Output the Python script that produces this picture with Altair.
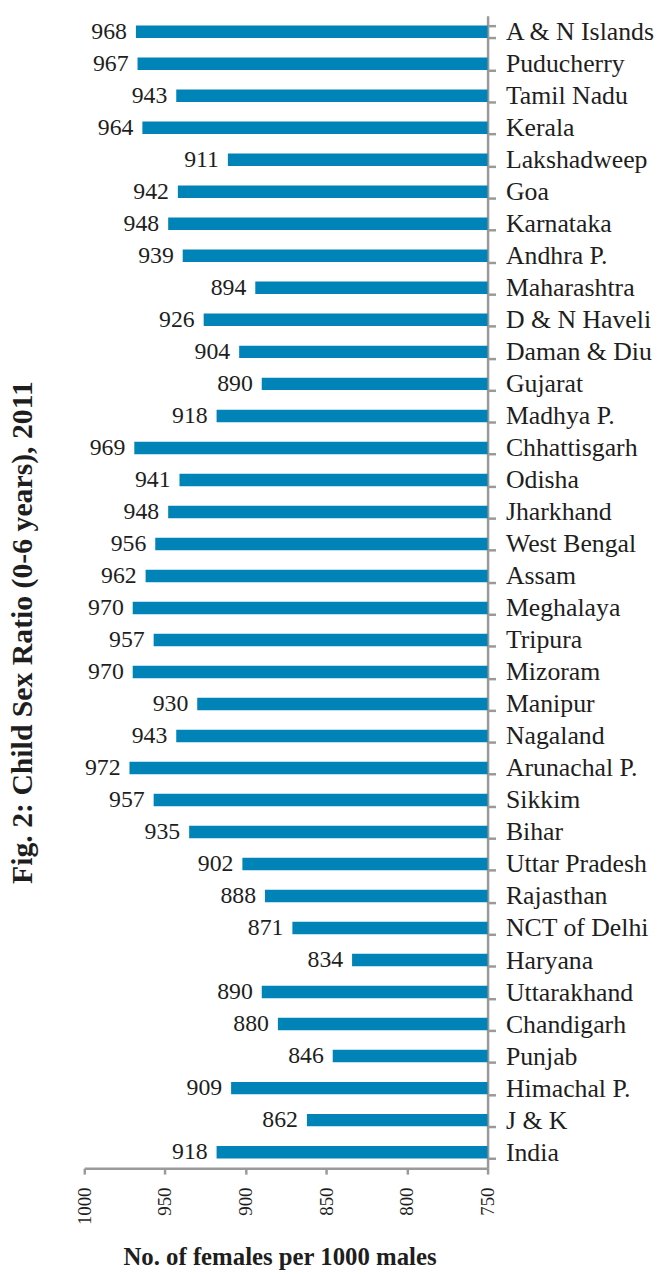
import altair as alt
import pandas as pd

states = ["A & N Islands", "Puducherry", "Tamil Nadu", "Kerala", "Lakshadweep", "Goa",
          "Karnataka", "Andhra P.", "Maharashtra", "D & N  Haveli", "Daman & Diu", "Gujarat",
          "Madhya P.", "Chhattisgarh", "Odisha", "Jharkhand", "West Bengal", "Assam",
          "Meghalaya", "Tripura", "Mizoram", "Manipur", "Nagaland", "Arunachal P.", "Sikkim",
          "Bihar", "Uttar Pradesh", "Rajasthan", "NCT of Delhi", "Haryana", "Uttarakhand",
          "Chandigarh", "Punjab", "Himachal P.", "J & K", "India"]
ratios = [968, 967, 943, 964, 911, 942, 948, 939, 894, 926, 904, 890, 918, 969, 941, 948,
          956, 962, 970, 957, 970, 930, 943, 972, 957, 935, 902, 888, 871, 834, 890, 880,
          846, 909, 862, 918]
x_ticks = [1000, 950, 900, 850, 800, 750]

df = pd.DataFrame({"state": states, "ratio": ratios, "base": [750] * len(states)})

FONT = "Liberation Serif"
GREY = "#9a9a9a"
INK = "#1e1e1e"

x_scale = alt.Scale(domain=[750, 1000], reverse=True, zero=False, nice=False)
y_enc = alt.Y("state:N", sort=states,
              scale=alt.Scale(paddingInner=0.61, paddingOuter=0.305),
              axis=alt.Axis(orient="right", title=None, domainColor=GREY, domainWidth=2.5,
                            tickColor=GREY, tickWidth=2.5, tickSize=8, tickBand="extent",
                            labelFont=FONT, labelFontSize=26, labelColor=INK,
                            labelPadding=10, labelAlign="left", labelBaseline="middle",
                            labelLimit=300))

bars = alt.Chart(df).mark_bar(color="#0084B8").encode(
    x=alt.X("ratio:Q", scale=x_scale,
            axis=alt.Axis(values=x_ticks, format="d", title="No. of females per 1000 males",
                          titleFont=FONT, titleFontSize=25, titleFontWeight="bold",
                          titleColor=INK, titleX=197, titleY=97, titleBaseline="alphabetic",
                          titleAlign="center",
                          domainColor=GREY, domainWidth=2.5, tickColor=GREY, tickWidth=2.5,
                          tickSize=6, labelAngle=270, labelAlign="right", labelFlush=False,
                          labelBaseline="middle", labelFont=FONT, labelFontSize=19,
                          labelColor=INK, labelPadding=13, grid=False)),
    x2=alt.X2("base:Q"),
    y=y_enc,
)

labels = alt.Chart(df).mark_text(align="right", baseline="middle", dx=-9, font=FONT,
                                  fontSize=24, color=INK).encode(
    x=alt.X("ratio:Q", scale=x_scale),
    y=alt.Y("state:N", sort=states),
    text=alt.Text("ratio:Q"),
)

chart = (bars + labels).properties(
    width=407, height=1163,
    autosize=alt.AutoSizeParams(type="none"),
    padding={"left": 77, "top": 2, "right": 174, "bottom": 101},
    title=alt.TitleParams("Fig. 2: Child Sex Ratio (0-6 years), 2011", orient="left",
                          font=FONT, fontSize=30, fontWeight="bold", color=INK,
                          offset=38, anchor="middle", dx=-41),
).configure_view(stroke=None)

chart.save("out.html", embed_options={"renderer": "svg", "actions": False})
